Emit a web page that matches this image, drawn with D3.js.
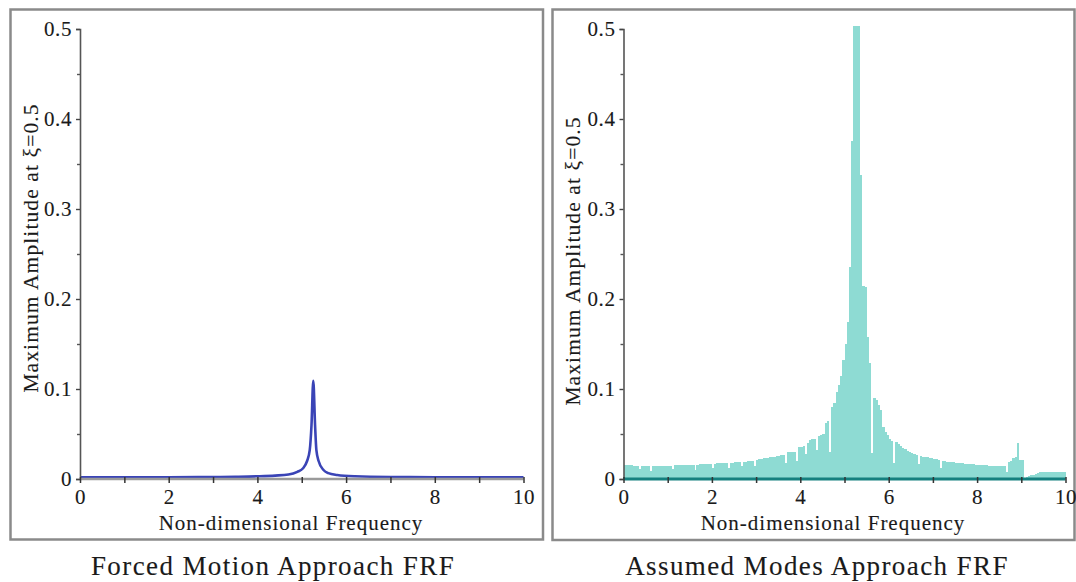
<!DOCTYPE html>
<html>
<head>
<meta charset="utf-8">
<script src="https://cdn.jsdelivr.net/npm/d3@7"></script>
<style>
  html, body { margin: 0; padding: 0; background: #fff; }
  svg { display: block; }
  svg text { font-family: "Liberation Serif", "DejaVu Serif", serif !important;
             fill: #1a1a1a; stroke: #1a1a1a; stroke-width: 0.12px; }
</style>
</head>
<body>
<svg id="chart" width="1076" height="582" font-family="Liberation Serif, DejaVu Serif, serif"></svg>
<script>
// ---- data -------------------------------------------------------------
// Forced motion approach: response curve (frequency, amplitude)
const forcedFreq = [0, 1, 2, 3, 3.5, 4, 4.4, 4.7, 4.9, 5.03, 5.12, 5.18, 5.22, 5.26,
                    5.30, 5.33, 5.38, 5.49, 5.6, 5.8, 6.2, 7, 8, 9, 10];
const forcedAmp  = [0.002, 0.002, 0.002, 0.0022, 0.0025, 0.003, 0.0038, 0.005, 0.008, 0.012,
                    0.02, 0.032, 0.06, 0.109, 0.06, 0.032, 0.02, 0.010, 0.0065, 0.0045,
                    0.003, 0.0022, 0.002, 0.0018, 0.0018];

// Assumed modes approach: amplitude per frequency bin (bin width 0.05, starting at 0)
const binWidth = 0.05;
const modesAmp = [
  // 0.00 - 0.95
  0.0152, 0.0152, 0.0151, 0.0151, 0.0150, 0.0150, 0.0149, 0.0110, 0.0148, 0.0147,
  0.0146, 0.0146, 0.0090, 0.0150, 0.0150, 0.0149, 0.0149, 0.0148, 0.0148, 0.0147,
  // 1.00 - 1.95
  0.0146, 0.0145, 0.0110, 0.0155, 0.0155, 0.0156, 0.0156, 0.0157, 0.0157, 0.0158,
  0.0158, 0.0157, 0.0095, 0.0160, 0.0162, 0.0163, 0.0164, 0.0165, 0.0166, 0.0166,
  // 2.00 - 2.95
  0.0120, 0.0172, 0.0173, 0.0174, 0.0175, 0.0176, 0.0176, 0.0125, 0.0182, 0.0183,
  0.0184, 0.0185, 0.0186, 0.0140, 0.0192, 0.0194, 0.0196, 0.0198, 0.0200, 0.0150,
  // 3.00 - 3.95
  0.0215, 0.0220, 0.0225, 0.0228, 0.0232, 0.0236, 0.0240, 0.0245, 0.0250, 0.0255,
  0.0260, 0.0265, 0.0272, 0.0180, 0.0295, 0.0300, 0.0302, 0.0305, 0.0195, 0.0355,
  // 4.00 - 4.95
  0.0360, 0.0365, 0.0280, 0.0400, 0.0430, 0.0440, 0.0450, 0.0320, 0.0480, 0.0490,
  0.0500, 0.0620, 0.0640, 0.0300, 0.0800, 0.0840, 0.0970, 0.1050, 0.1140, 0.1320,
  // 5.00 - 5.95
  0.1500, 0.1750, 0.2360, 0.3760, 0.5030, 0.5030, 0.5030, 0.3380, 0.2150, 0.2130,
  0.1580, 0.1290, 0.0290, 0.0900, 0.0880, 0.0820, 0.0770, 0.0580, 0.0520, 0.0490,
  // 6.00 - 6.95
  0.0450, 0.0420, 0.0180, 0.0410, 0.0390, 0.0370, 0.0350, 0.0330, 0.0310, 0.0300,
  0.0290, 0.0280, 0.0270, 0.0170, 0.0255, 0.0250, 0.0245, 0.0240, 0.0235, 0.0230,
  // 7.00 - 7.95
  0.0225, 0.0220, 0.0215, 0.0120, 0.0200, 0.0197, 0.0194, 0.0191, 0.0188, 0.0185,
  0.0182, 0.0179, 0.0176, 0.0174, 0.0171, 0.0169, 0.0166, 0.0164, 0.0162, 0.0160,
  // 8.00 - 8.95
  0.0158, 0.0156, 0.0155, 0.0153, 0.0152, 0.0150, 0.0149, 0.0148, 0.0147, 0.0146,
  0.0146, 0.0145, 0.0145, 0.0080, 0.0190, 0.0200, 0.0230, 0.0250, 0.0400, 0.0210,
  // 9.00 - 9.95
  0.0210, 0.0010, 0.0020, 0.0030, 0.0040, 0.0050, 0.0060, 0.0070, 0.0075, 0.0080,
  0.0080, 0.0080, 0.0080, 0.0080, 0.0080, 0.0080, 0.0080, 0.0080, 0.0080, 0.0080
];

const xMajorTicks = [0, 2, 4, 6, 8, 10];
const xMinorTicks = [1, 3, 5, 7, 9];
const yMajorTicks = [0, 0.1, 0.2, 0.3, 0.4, 0.5];
const yMinorTicks = [0.05, 0.15, 0.25, 0.35, 0.45];

const xLabel = "Non-dimensional Frequency";
const yLabel = "Maximum Amplitude at ξ=0.5";
const captions = ["Forced Motion Approach FRF", "Assumed Modes Approach FRF"];

// ---- drawing ----------------------------------------------------------
const svg = d3.select("#chart");
const FONT = '"Liberation Serif", "DejaVu Serif", serif';

function drawPanel(cfg) {
  const g = svg.append("g");

  // panel frame
  g.append("rect")
    .attr("x", cfg.frame[0]).attr("y", cfg.frame[1])
    .attr("width", cfg.frame[2]).attr("height", cfg.frame[3])
    .attr("fill", "none").attr("stroke", "#8a8a8a").attr("stroke-width", 2.5);

  const x = d3.scaleLinear().domain([0, 10]).range([cfg.x0, cfg.x1]);
  const y = d3.scaleLinear().domain([0, 0.5]).range([479, 29]);

  cfg.draw(g, x, y);

  // y axis
  const yAxis = g.append("g").attr("transform", `translate(${cfg.x0},0)`)
    .call(d3.axisLeft(y).tickValues(yMajorTicks).tickSize(4).tickPadding(4)
      .tickFormat(d => d === 0 ? "0" : d3.format(".1f")(d)));
  yAxis.attr("font-family", FONT);
  yAxis.select(".domain").attr("stroke", "#555").attr("stroke-width", 1.6);
  yAxis.selectAll(".tick line").attr("stroke", "#444").attr("stroke-width", 1.4);
  yAxis.selectAll(".tick text").style("font-size", "21px").attr("dy", "0.33em")
    .style("letter-spacing", "0.6px");
  const yMinor = g.append("g").attr("transform", `translate(${cfg.x0},0)`)
    .call(d3.axisLeft(y).tickValues(yMinorTicks).tickSize(3).tickFormat(""));
  yMinor.select(".domain").remove();
  yMinor.selectAll(".tick line").attr("stroke", "#555").attr("stroke-width", 1.4);

  // x axis line
  g.append("line")
    .attr("x1", x(0)).attr("x2", x(10)).attr("y1", y(0)).attr("y2", y(0))
    .attr("stroke", cfg.xAxisColor).attr("stroke-width", cfg.xAxisWidth);

  const xAxis = g.append("g").attr("transform", `translate(0,${y(0)})`)
    .call(d3.axisBottom(x).tickValues(xMajorTicks).tickSize(4).tickPadding(6));
  xAxis.attr("font-family", FONT);
  xAxis.select(".domain").remove();
  xAxis.selectAll(".tick line").attr("stroke", "#333").attr("stroke-width", 1.5).attr("y1", -2);
  xAxis.selectAll(".tick text").style("font-size", "21px").style("letter-spacing", "0.5px");
  const xMinor = g.append("g").attr("transform", `translate(0,${y(0)})`)
    .call(d3.axisBottom(x).tickValues(xMinorTicks).tickSize(4).tickFormat(""));
  xMinor.select(".domain").remove();
  xMinor.selectAll(".tick line").attr("stroke", "#333").attr("stroke-width", 1.5).attr("y1", -2);

  // axis titles
  g.append("text")
    .attr("x", cfg.xLabelX).attr("y", 530)
    .attr("text-anchor", "middle")
    .style("font-size", "21px").style("letter-spacing", "1px")
    .text(xLabel);

  g.append("text")
    .attr("transform", `translate(${cfg.yLabelX},${cfg.yLabelY}) rotate(-90)`)
    .attr("text-anchor", "middle")
    .style("font-size", "21.5px").style("letter-spacing", "1.1px")
    .text(yLabel);

  // caption
  g.append("text")
    .attr("x", cfg.captionX).attr("y", 575)
    .attr("text-anchor", "middle")
    .style("font-size", "27px").style("letter-spacing", "1.4px")
    .text(cfg.caption);
}

// left: forced motion curve
drawPanel({
  frame: [10.5, 9.5, 532.5, 530],
  x0: 80, x1: 523.5,
  xAxisColor: "#9a9a9a", xAxisWidth: 2.5,
  xLabelX: 291,
  yLabelX: 38, yLabelY: 248,
  caption: captions[0], captionX: 273,
  draw: (g, x, y) => {
    const pts = forcedFreq.map((f, i) => [f, forcedAmp[i]]);
    g.append("path")
      .datum(pts)
      .attr("fill", "none")
      .attr("stroke", "#3a44b6")
      .attr("stroke-width", 2.6)
      .attr("stroke-linejoin", "round")
      .attr("d", d3.line().x(d => x(d[0])).y(d => y(d[1])).curve(d3.curveMonotoneX));
  }
});

// right: assumed modes bars
drawPanel({
  frame: [552.5, 9.5, 522, 530.5],
  x0: 623.5, x1: 1065.5,
  xAxisColor: "#15807f", xAxisWidth: 3.2,
  xLabelX: 833,
  yLabelX: 580, yLabelY: 261,
  caption: captions[1], captionX: 817,
  draw: (g, x, y) => {
    const bins = modesAmp.map((a, i) => ({ f0: i * binWidth, f1: (i + 1) * binWidth, a }));
    g.append("g").selectAll("rect")
      .data(bins)
      .join("rect")
      .attr("x", d => x(d.f0))
      .attr("width", d => x(d.f1) - x(d.f0) + 0.3)
      .attr("y", d => y(d.a))
      .attr("height", d => y(0) - y(d.a))
      .attr("fill", "#8edbd3")
      .attr("shape-rendering", "crispEdges");
  }
});
</script>
</body>
</html>
